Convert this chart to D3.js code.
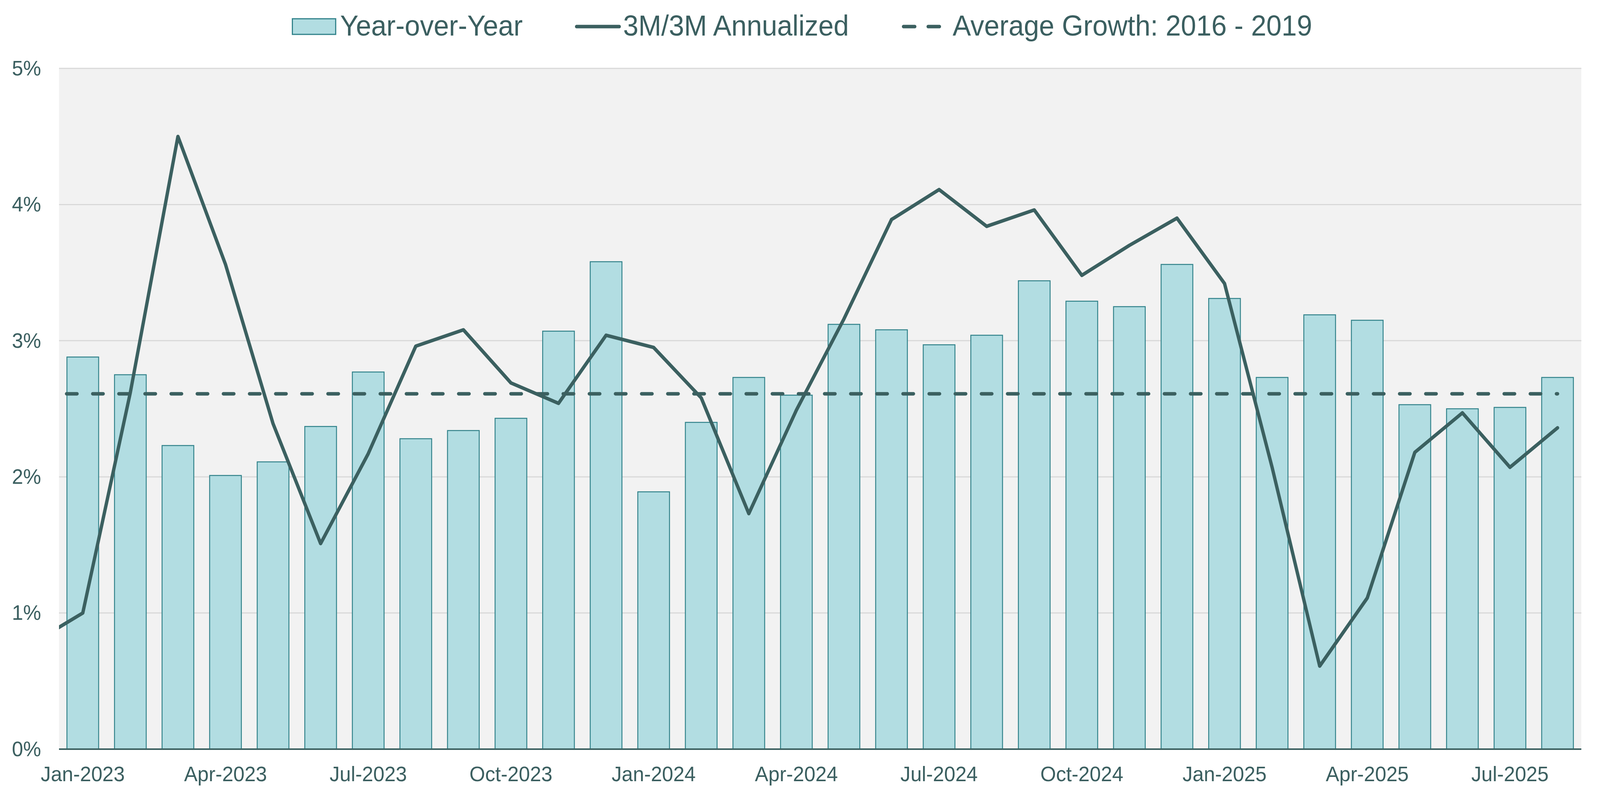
<!DOCTYPE html>
<html>
<head>
<meta charset="utf-8">
<script src="https://cdn.jsdelivr.net/npm/d3@7"></script>
<style>
  html, body { margin: 0; padding: 0; background: #ffffff; width: 100%; height: 100%; overflow: hidden; }
  svg { display: block; width: 100vw; height: 100vh; }
  text { font-family: "Liberation Sans", Arial, Helvetica, sans-serif; fill: #3b5f60; }
</style>
</head>
<body>
<svg id="chart" viewBox="0 0 4285 2042" preserveAspectRatio="none"></svg>
<script>
// ---------------- DATA ----------------
const categories = [
  "Jan-2023","Feb-2023","Mar-2023","Apr-2023","May-2023","Jun-2023","Jul-2023","Aug-2023","Sep-2023","Oct-2023","Nov-2023","Dec-2023",
  "Jan-2024","Feb-2024","Mar-2024","Apr-2024","May-2024","Jun-2024","Jul-2024","Aug-2024","Sep-2024","Oct-2024","Nov-2024","Dec-2024",
  "Jan-2025","Feb-2025","Mar-2025","Apr-2025","May-2025","Jun-2025","Jul-2025","Aug-2025"
];
// Year-over-Year (%)
const yoyValues = [
  2.88, 2.75, 2.23, 2.01, 2.11, 2.37, 2.77, 2.28, 2.34, 2.43, 3.07, 3.58,
  1.89, 2.40, 2.73, 2.60, 3.12, 3.08, 2.97, 3.04, 3.44, 3.29, 3.25, 3.56,
  3.31, 2.73, 3.19, 3.15, 2.53, 2.50, 2.51, 2.73
];
// 3M/3M Annualized (%) - first value is Dec-2022, just left of the plot (clipped)
const annualizedLead = 0.79;
const annualizedValues = [
  1.00, 2.62, 4.50, 3.56, 2.39, 1.51, 2.17, 2.96, 3.08, 2.69, 2.54, 3.04,
  2.95, 2.58, 1.73, 2.49, 3.16, 3.89, 4.11, 3.84, 3.96, 3.48, 3.70, 3.90,
  3.42, 2.07, 0.61, 1.11, 2.18, 2.47, 2.07, 2.36
];
// Average Growth: 2016 - 2019 (%)
const averageGrowth = 2.61;
const yTicks = [0, 1, 2, 3, 4, 5];
const xTickLabels = ["Jan-2023","Apr-2023","Jul-2023","Oct-2023","Jan-2024","Apr-2024","Jul-2024","Oct-2024","Jan-2025","Apr-2025","Jul-2025"];
const legendLabels = ["Year-over-Year", "3M/3M Annualized", "Average Growth: 2016 - 2019"];

// ---------------- STYLE ----------------
const C = {
  text: "#3b5f60",
  line: "#3b6060",
  barFill: "#b2dde2",
  barStroke: "#31828a",
  plotBg: "#f2f2f2",
  grid: "#d9d9d9"
};

const svg = d3.select("#chart");
const plot = { left: 158, right: 4235, top: 175, bottom: 1917 };

const x = d3.scaleBand().domain(categories).range([plot.left, plot.right]).paddingInner(1/3).paddingOuter(1/6);
const xi = d3.scaleLinear().domain([-0.5, categories.length - 0.5]).range([plot.left, plot.right]);
const y = d3.scaleLinear().domain([0, 5]).range([plot.bottom, plot.top]);

// plot background
svg.append("rect")
  .attr("x", plot.left).attr("y", plot.top)
  .attr("width", plot.right - plot.left).attr("height", plot.bottom - plot.top)
  .attr("fill", C.plotBg);

svg.append("defs").append("clipPath").attr("id", "plotClip")
  .append("rect")
  .attr("x", plot.left).attr("y", plot.top - 20)
  .attr("width", plot.right - plot.left).attr("height", plot.bottom - plot.top + 40);

// gridlines
svg.append("g")
  .selectAll("line").data(yTicks.filter(d => d > 0)).join("line")
  .attr("x1", plot.left).attr("x2", plot.right)
  .attr("y1", d => y(d)).attr("y2", d => y(d))
  .attr("stroke", C.grid).attr("stroke-width", 3);

// y axis labels
const yAxis = d3.axisLeft(y).tickValues(yTicks).tickFormat(d => d + "%").tickSize(0).tickPadding(48);
const gy = svg.append("g").attr("transform", `translate(${plot.left},0)`).call(yAxis);
gy.select(".domain").remove();
gy.selectAll("text").attr("font-size", 54).attr("fill", C.text)
  .style("font-family", '"Liberation Sans", Arial, sans-serif');

// bars
svg.append("g")
  .selectAll("rect").data(yoyValues).join("rect")
  .attr("x", (d, i) => x(categories[i]))
  .attr("width", x.bandwidth())
  .attr("y", d => y(d))
  .attr("height", d => y(0) - y(d))
  .attr("fill", C.barFill)
  .attr("stroke", C.barStroke)
  .attr("stroke-width", 2.5);

// x axis baseline
svg.append("line")
  .attr("x1", plot.left).attr("x2", plot.right)
  .attr("y1", y(0)).attr("y2", y(0))
  .attr("stroke", C.line).attr("stroke-width", 4);

// x axis labels
const xAxis = d3.axisBottom(x).tickValues(xTickLabels).tickSize(0).tickPadding(44);
const gx = svg.append("g").attr("transform", `translate(0,${plot.bottom})`).call(xAxis);
gx.select(".domain").remove();
gx.selectAll("text").attr("font-size", 54).attr("fill", C.text)
  .style("font-family", '"Liberation Sans", Arial, sans-serif');

// average growth dashed line
const avgData = [annualizedLead].concat(annualizedValues).map((v, i) => ({ i: i - 1, v: averageGrowth }));
const lineGen = d3.line().x(d => xi(d.i)).y(d => y(d.v));
svg.append("path")
  .datum(avgData)
  .attr("clip-path", "url(#plotClip)")
  .attr("d", lineGen)
  .attr("fill", "none")
  .attr("stroke", C.line)
  .attr("stroke-width", 9)
  .attr("stroke-linecap", "round")
  .attr("stroke-dasharray", "28 42")
  .attr("stroke-dashoffset", 56);

// 3M/3M annualized line
const annData = [annualizedLead].concat(annualizedValues).map((v, i) => ({ i: i - 1, v }));
svg.append("path")
  .datum(annData)
  .attr("clip-path", "url(#plotClip)")
  .attr("d", lineGen)
  .attr("fill", "none")
  .attr("stroke", C.line)
  .attr("stroke-width", 9)
  .attr("stroke-linejoin", "round")
  .attr("stroke-linecap", "round");

// ---------------- LEGEND ----------------
const lg = svg.append("g");
const ly = 68, lfs = 73.5, baseline = 91;
let cx = 783;
// bar swatch
lg.append("rect").attr("x", cx).attr("y", ly - 20).attr("width", 116).attr("height", 40)
  .attr("fill", C.barFill).attr("stroke", C.barStroke).attr("stroke-width", 3);
cx += 116 + 12;
let t = lg.append("text").attr("x", cx).attr("y", baseline).attr("font-size", lfs).attr("fill", C.text).text(legendLabels[0]);
cx += t.node().getComputedTextLength() + 140;
// solid line symbol
lg.append("line").attr("x1", cx + 4.5).attr("x2", cx + 118.5).attr("y1", ly).attr("y2", ly)
  .attr("stroke", C.line).attr("stroke-width", 9).attr("stroke-linecap", "round");
cx += 123 + 6;
t = lg.append("text").attr("x", cx).attr("y", baseline).attr("font-size", lfs).attr("fill", C.text).text(legendLabels[1]);
cx += t.node().getComputedTextLength() + 142;
// dashed symbol
lg.append("line").attr("x1", cx + 4.5).attr("x2", cx + 104.5).attr("y1", ly).attr("y2", ly)
  .attr("stroke", C.line).attr("stroke-width", 9).attr("stroke-linecap", "round")
  .attr("stroke-dasharray", "30 36");
cx += 109 + 27;
lg.append("text").attr("x", cx).attr("y", baseline).attr("font-size", lfs).attr("fill", C.text).text(legendLabels[2]);
</script>
</body>
</html>
